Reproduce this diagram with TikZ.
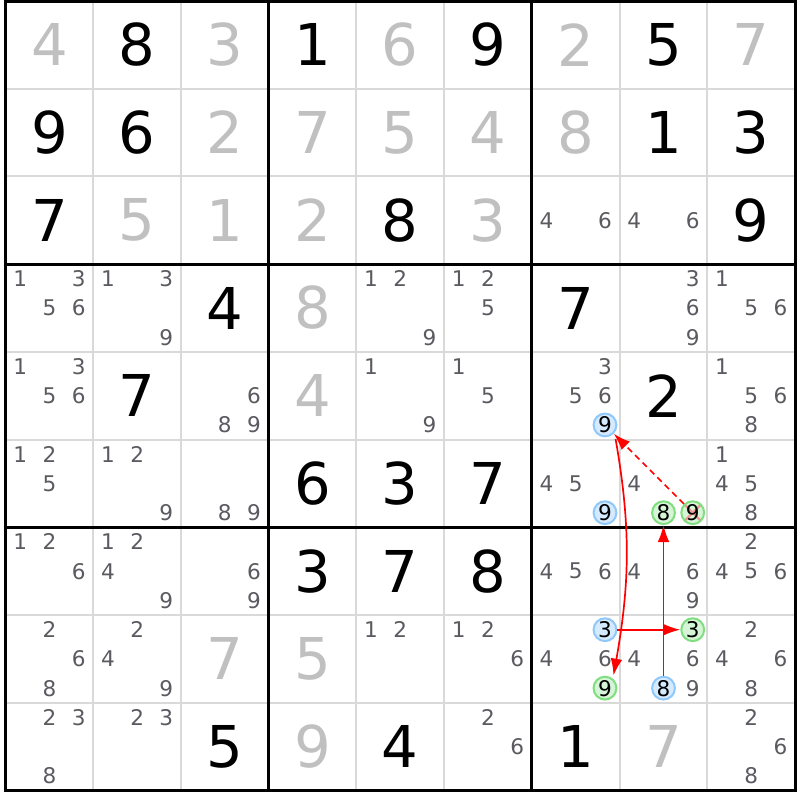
\documentclass[tikz,border=0pt]{standalone}
\usepackage{fontspec}
\setmainfont{DejaVu Sans}
\usepackage{xcolor}
\usetikzlibrary{arrows.meta}
\definecolor{candgray}{RGB}{90,90,96}
\definecolor{solvedgray}{RGB}{192,192,192}
\definecolor{markblue}{RGB}{144,200,250}
\definecolor{fillblue}{RGB}{212,234,255}
\definecolor{markgreen}{RGB}{128,222,128}
\definecolor{fillgreen}{RGB}{214,245,214}
\definecolor{crosspink}{RGB}{240,150,150}
% pencil marks of one cell: row, column, list of digits
\newcommand{\cands}[3]{\foreach \x in {#3}{\node[cand] (k#1#2\x) at ({#2-1+mod(\x-1,3)/3+1/6},{10-#1-div(\x-1,3)/3-1/6}) {\x};}}

\begin{document}
\begin{tikzpicture}
			\fill[white] (-0.063,-0.108) rectangle (9.048,9.011);
			\useasboundingbox (-0.063,-0.108) rectangle (9.048,9.011);
			\tikzstyle{given}=[font=\fontsize{18.7}{20}\selectfont,inner sep=0pt]
			\tikzstyle{solved}=[given,text=solvedgray]
			\tikzstyle{cand}=[font=\fontsize{7}{8}\selectfont,inner sep=0pt,text=candgray]
			\tikzstyle{bluemark}=[cand,circle,text=black,draw=markblue,fill=fillblue,line width=0.65pt,minimum size=7.4pt]
			\tikzstyle{greenmark}=[bluemark,draw=markgreen,fill=fillgreen]
			\tikzstyle{struck}=[greenmark,path picture={\draw[crosspink,line width=0.75pt] (path picture bounding box.north west) -- (path picture bounding box.south east) (path picture bounding box.north east) -- (path picture bounding box.south west);}]
			\tikzstyle{link}=[red,line width=0.55pt,-{Latex[length=5.5pt,width=3.8pt]}]
			\draw[gray!30,line width=0.65pt] (0,0) grid (9,9);
			\draw[black,line width=1pt,line cap=rect,step=3] (0,0) grid (9,9);
			% row 1
			\node[solved] (r1c1) at (0.5,8.5) {4};
			\node[given] (r1c2) at (1.5,8.5) {8};
			\node[solved] (r1c3) at (2.5,8.5) {3};
			\node[given] (r1c4) at (3.5,8.5) {1};
			\node[solved] (r1c5) at (4.5,8.5) {6};
			\node[given] (r1c6) at (5.5,8.5) {9};
			\node[solved] (r1c7) at (6.5,8.5) {2};
			\node[given] (r1c8) at (7.5,8.5) {5};
			\node[solved] (r1c9) at (8.5,8.5) {7};
			% row 2
			\node[given] (r2c1) at (0.5,7.5) {9};
			\node[given] (r2c2) at (1.5,7.5) {6};
			\node[solved] (r2c3) at (2.5,7.5) {2};
			\node[solved] (r2c4) at (3.5,7.5) {7};
			\node[solved] (r2c5) at (4.5,7.5) {5};
			\node[solved] (r2c6) at (5.5,7.5) {4};
			\node[solved] (r2c7) at (6.5,7.5) {8};
			\node[given] (r2c8) at (7.5,7.5) {1};
			\node[given] (r2c9) at (8.5,7.5) {3};
			% row 3
			\node[given] (r3c1) at (0.5,6.5) {7};
			\node[solved] (r3c2) at (1.5,6.5) {5};
			\node[solved] (r3c3) at (2.5,6.5) {1};
			\node[solved] (r3c4) at (3.5,6.5) {2};
			\node[given] (r3c5) at (4.5,6.5) {8};
			\node[solved] (r3c6) at (5.5,6.5) {3};
			\node[given] (r3c9) at (8.5,6.5) {9};
			% row 4
			\node[given] (r4c3) at (2.5,5.5) {4};
			\node[solved] (r4c4) at (3.5,5.5) {8};
			\node[given] (r4c7) at (6.5,5.5) {7};
			% row 5
			\node[given] (r5c2) at (1.5,4.5) {7};
			\node[solved] (r5c4) at (3.5,4.5) {4};
			\node[given] (r5c8) at (7.5,4.5) {2};
			% row 6
			\node[given] (r6c4) at (3.5,3.5) {6};
			\node[given] (r6c5) at (4.5,3.5) {3};
			\node[given] (r6c6) at (5.5,3.5) {7};
			% row 7
			\node[given] (r7c4) at (3.5,2.5) {3};
			\node[given] (r7c5) at (4.5,2.5) {7};
			\node[given] (r7c6) at (5.5,2.5) {8};
			% row 8
			\node[solved] (r8c3) at (2.5,1.5) {7};
			\node[solved] (r8c4) at (3.5,1.5) {5};
			% row 9
			\node[given] (r9c3) at (2.5,0.5) {5};
			\node[solved] (r9c4) at (3.5,0.5) {9};
			\node[given] (r9c5) at (4.5,0.5) {4};
			\node[given] (r9c7) at (6.5,0.5) {1};
			\node[solved] (r9c8) at (7.5,0.5) {7};
			% pencil marks
			\cands{3}{7}{4,6} \cands{3}{8}{4,6}
			\cands{4}{1}{1,3,5,6} \cands{4}{2}{1,3,9} \cands{4}{5}{1,2,9} \cands{4}{6}{1,2,5} \cands{4}{8}{3,6,9} \cands{4}{9}{1,5,6}
			\cands{5}{1}{1,3,5,6} \cands{5}{3}{6,8,9} \cands{5}{5}{1,9} \cands{5}{6}{1,5} \cands{5}{7}{3,5,6} \cands{5}{9}{1,5,6,8}
			\cands{6}{1}{1,2,5} \cands{6}{2}{1,2,9} \cands{6}{3}{8,9} \cands{6}{7}{4,5} \cands{6}{8}{4} \cands{6}{9}{1,4,5,8}
			\cands{7}{1}{1,2,6} \cands{7}{2}{1,2,4,9} \cands{7}{3}{6,9} \cands{7}{7}{4,5,6} \cands{7}{8}{4,6,9} \cands{7}{9}{2,4,5,6}
			\cands{8}{1}{2,6,8} \cands{8}{2}{2,4,9} \cands{8}{5}{1,2} \cands{8}{6}{1,2,6} \cands{8}{7}{4,6} \cands{8}{8}{4,6,9} \cands{8}{9}{2,4,6,8}
			\cands{9}{1}{2,3,8} \cands{9}{2}{2,3} \cands{9}{6}{2,6} \cands{9}{9}{2,6,8}
			% marked candidates
			\node[bluemark] (k579) at (6.833,4.167) {9};
			\node[bluemark] (k679) at (6.833,3.167) {9};
			\node[greenmark] (k688) at (7.5,3.167) {8};
			\node[struck] (k689) at (7.833,3.167) {9};
			\node[bluemark] (k873) at (6.833,1.833) {3};
			\node[greenmark] (k879) at (6.833,1.167) {9};
			\node[greenmark] (k883) at (7.833,1.833) {3};
			\node[bluemark] (k888) at (7.5,1.167) {8};
			% links
			\draw[link,dash pattern=on 2pt off 1.4pt] (k689) -- (k579);
			\draw[link,shorten <=2pt,shorten >=1pt] (k579.-40) to[out=-80,in=80] (k879.50);
			\draw[link] (k873) -- (k883);
			\draw[link] (k888) -- (k688);
		\end{tikzpicture}
\end{document}
